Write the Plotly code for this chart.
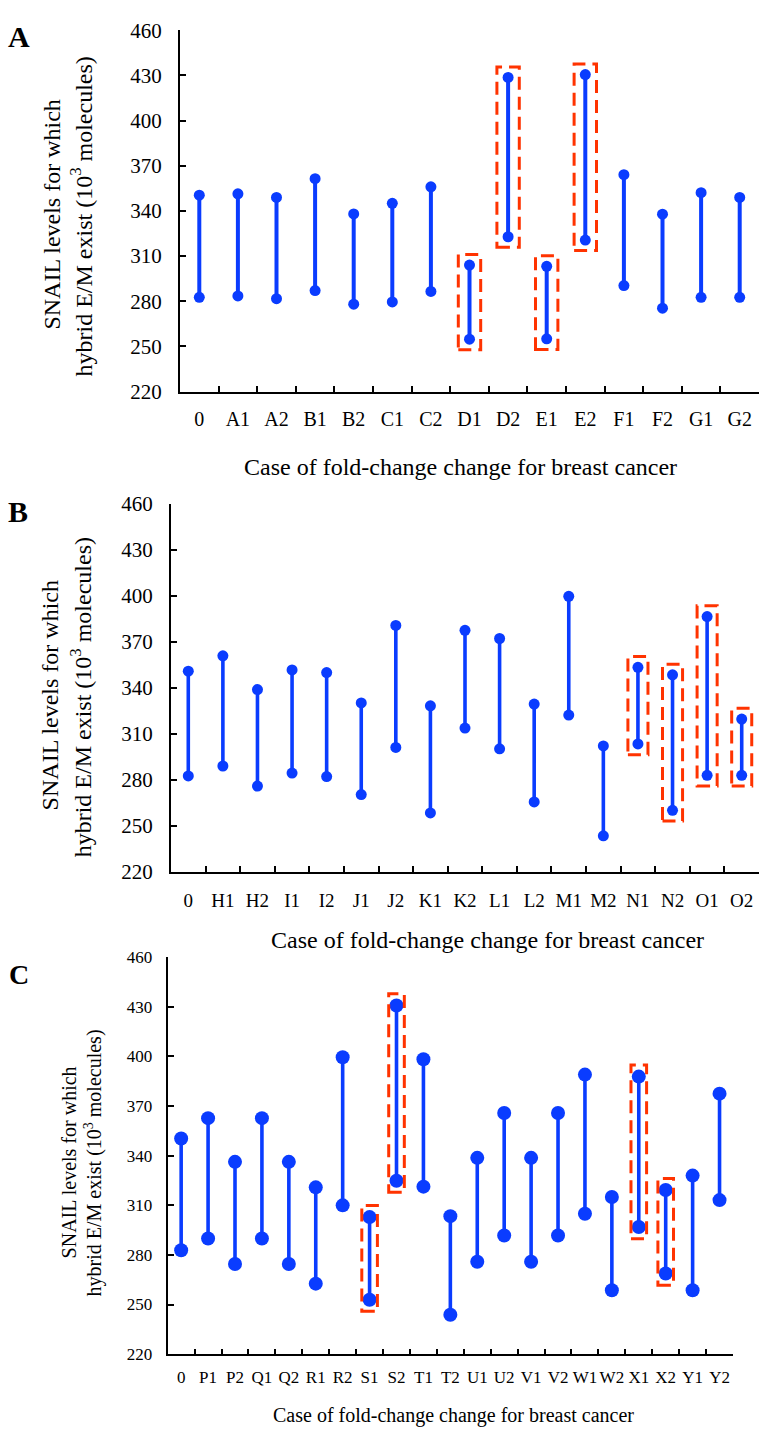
import plotly.graph_objects as go

W, H = 759, 1435
BLUE = "#0a3cff"
RED = "#ff3300"
FONT = "Liberation Serif"

# ---- Panel A ----
cases_a = ["0", "A1", "A2", "B1", "B2", "C1", "C2", "D1", "D2",
           "E1", "E2", "F1", "F2", "G1", "G2"]
low_a = [282.6, 283.5, 281.7, 287.1, 278.0, 279.5, 286.5, 254.8, 322.8,
         255.0, 320.6, 290.4, 275.4, 282.6, 282.6]
high_a = [350.4, 351.3, 348.9, 361.4, 338.0, 345.0, 356.0, 304.0, 428.6,
          303.2, 430.5, 364.0, 337.8, 352.1, 348.9]
boxed_a = ["D1", "D2", "E1", "E2"]

# ---- Panel B ----
cases_b = ["0", "H1", "H2", "I1", "I2", "J1", "J2", "K1", "K2", "L1", "L2",
           "M1", "M2", "N1", "N2", "O1", "O2"]
low_b = [282.5, 289.0, 275.9, 284.4, 282.1, 270.4, 301.1, 258.4, 313.7,
         300.2, 265.6, 322.2, 243.5, 303.4, 260.1, 282.9, 282.9]
high_b = [350.8, 360.8, 338.8, 351.6, 349.9, 330.1, 380.6, 328.2, 377.4,
          372.1, 329.4, 399.6, 302.1, 353.3, 348.4, 386.4, 319.6]
boxed_b = ["N1", "N2", "O1", "O2"]

# ---- Panel C ----
cases_c = ["0", "P1", "P2", "Q1", "Q2", "R1", "R2", "S1", "S2", "T1", "T2",
           "U1", "U2", "V1", "V2", "W1", "W2", "X1", "X2", "Y1", "Y2"]
low_c = [282.8, 289.9, 274.5, 289.9, 274.5, 262.6, 309.9, 252.9, 324.8,
         321.2, 243.8, 275.8, 291.7, 275.8, 291.7, 304.8, 258.6, 296.8,
         268.7, 258.6, 313.1]
high_c = [350.3, 362.6, 336.2, 362.6, 336.2, 320.8, 399.4, 302.8, 430.7,
          398.2, 303.4, 338.6, 365.7, 338.6, 365.7, 388.9, 315.0, 387.7,
          319.2, 327.9, 377.4]
boxed_c = ["S1", "S2", "X1", "X2"]

y_ticks = [220, 250, 280, 310, 340, 370, 400, 430, 460]
x_title = "Case of fold-change change for breast cancer"
y_title_1 = "SNAIL levels for which"
y_title_2 = "hybrid E/M exist (10<sup>3</sup> molecules)"


def px_x(v):
    return v / W


def px_y(v):
    return 1 - v / H


def range_trace(cases, low, high, xa, ya, msize, lwidth):
    """One vertical segment with end dots per case (low -> high)."""
    xs, ys = [], []
    for c, lo, hi in zip(cases, low, high):
        xs += [c, c, None]
        ys += [lo, hi, None]
    return go.Scatter(
        x=xs, y=ys, xaxis=xa, yaxis=ya, mode="lines+markers",
        line=dict(color=BLUE, width=lwidth),
        marker=dict(color=BLUE, size=msize),
        connectgaps=False, showlegend=False, hoverinfo="skip",
    )


def box_shapes(cases, low, high, boxed, xr, yr, pad=7, half=0.29):
    """Dashed red frames around the highlighted cases."""
    shapes = []
    for c in boxed:
        i = cases.index(c)
        shapes.append(dict(
            type="rect", xref=xr, yref=yr,
            x0=i - half, x1=i + half, y0=low[i] - pad, y1=high[i] + pad,
            line=dict(color=RED, width=3, dash="13px,7px"),
            fillcolor="rgba(0,0,0,0)", layer="above",
        ))
    return shapes


fig = go.Figure()
fig.add_trace(range_trace(cases_a, low_a, high_a, "x", "y", 11, 4))
fig.add_trace(range_trace(cases_b, low_b, high_b, "x2", "y2", 11, 3.6))
fig.add_trace(range_trace(cases_c, low_c, high_c, "x3", "y3", 14, 3.6))

shapes = []
shapes += box_shapes(cases_a, low_a, high_a, boxed_a, "x", "y")
shapes += box_shapes(cases_b, low_b, high_b, boxed_b, "x2", "y2")
shapes += box_shapes(cases_c, low_c, high_c, boxed_c, "x3", "y3")


def xaxis_cfg(cases, dom, size, ticklen, standoff):
    return dict(
        domain=dom, type="category", categoryorder="array", categoryarray=cases,
        range=[-0.5, len(cases) - 0.5], showline=True, linecolor="black",
        linewidth=2, ticks="inside", tickson="boundaries", ticklen=ticklen,
        tickwidth=2, tickcolor="black", showgrid=False, zeroline=False,
        tickangle=0,
        tickfont=dict(family=FONT, size=size, color="black"),
        ticklabelstandoff=standoff, fixedrange=True,
    )


def yaxis_cfg(dom, size, anchor, standoff):
    return dict(
        domain=dom, anchor=anchor, range=[220, 460], tickvals=y_ticks,
        showline=True, linecolor="black", linewidth=2, ticks="inside",
        ticklen=6, tickwidth=2, tickcolor="black", showgrid=False,
        zeroline=False, tickfont=dict(family=FONT, size=size, color="black"),
        ticklabelstandoff=standoff, fixedrange=True,
    )


fig.update_layout(
    width=W, height=H, margin=dict(l=0, r=0, t=0, b=0),
    paper_bgcolor="white", plot_bgcolor="white", showlegend=False,
    font=dict(family=FONT, color="black"),
    xaxis=dict(anchor="y", **xaxis_cfg(cases_a, [px_x(180), 1.0], 20, 6, 8)),
    yaxis=yaxis_cfg([px_y(386), px_y(18.5)], 21, "x", 12),
    xaxis2=dict(anchor="y2", **xaxis_cfg(cases_b, [px_x(171), 1.0], 19, 6, 10)),
    yaxis2=yaxis_cfg([px_y(874.5), px_y(500)], 21, "x2", 12),
    xaxis3=dict(anchor="y3", **xaxis_cfg(cases_c, [px_x(167.7), px_x(733)], 17, 5, 6)),
    yaxis3=yaxis_cfg([px_y(1365), px_y(961)], 17, "x3", 10),
    shapes=shapes,
)

annotations = []


def text(x, y, s, size, angle=0, bold=False):
    font = dict(family=FONT, size=size, color="black")
    if bold:
        font["weight"] = "bold"
    annotations.append(dict(
        x=px_x(x), y=px_y(y), xref="paper", yref="paper", text=s,
        showarrow=False, textangle=angle, xanchor="center", yanchor="middle",
        font=font,
    ))


# panel letters
text(19, 25, "A", 30, bold=True)
text(18, 508, "B", 30, bold=True)
text(19, 979, "C", 28, bold=True)

# y-axis titles, two lines each
text(52, 206, y_title_1, 24, angle=-90)
text(81, 208, y_title_2, 24, angle=-90)
text(50, 695, y_title_1, 24, angle=-90)
text(81, 697, y_title_2, 24, angle=-90)
text(69, 1170, y_title_1, 20, angle=-90)
text(93, 1171, y_title_2, 20, angle=-90)

# x-axis titles
text(460, 463, x_title, 24)
text(487, 944, x_title, 24)
text(454, 1427, x_title, 20)

fig.update_layout(annotations=annotations)
fig.write_html("out.html")
